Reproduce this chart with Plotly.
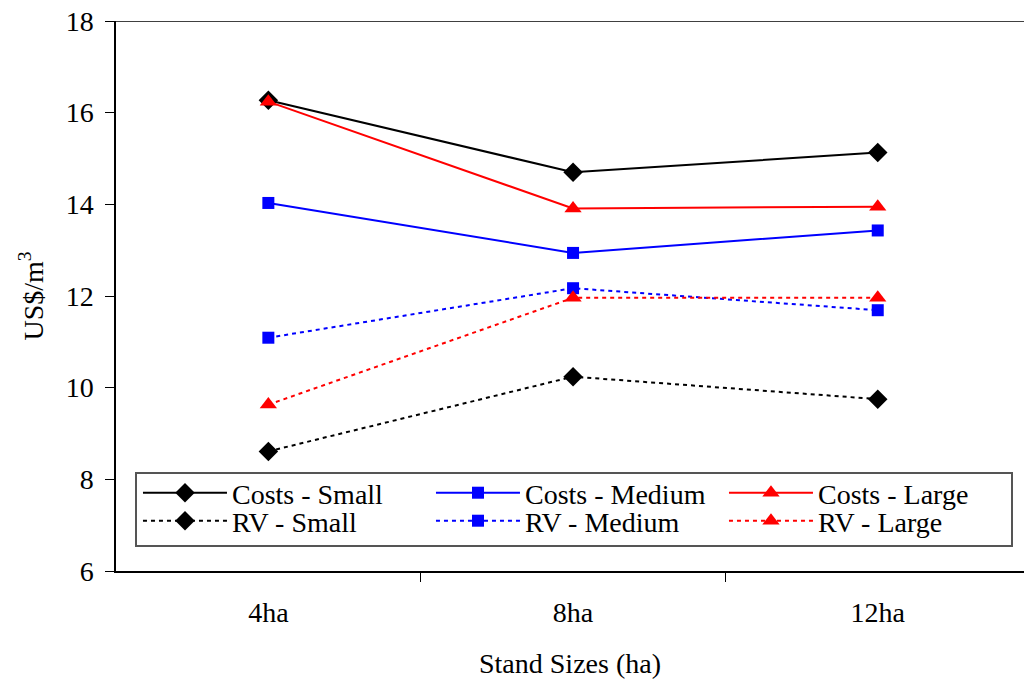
import plotly.graph_objects as go

categories = ["4ha", "8ha", "12ha"]
costs_small = [16.27, 14.70, 15.13]
costs_medium = [14.03, 12.94, 13.43]
costs_large = [16.24, 13.91, 13.95]
rv_small = [8.61, 10.24, 9.75]
rv_medium = [11.09, 12.17, 11.69]
rv_large = [9.63, 11.96, 11.96]

x = list(range(len(categories)))
series = [
    ("Costs - Small", costs_small, "black", "solid", "diamond", 15, "legend"),
    ("Costs - Medium", costs_medium, "#0000FF", "solid", "square", 12, "legend"),
    ("Costs - Large", costs_large, "#FF0000", "solid", "triangle-up", 15, "legend"),
    ("RV - Small", rv_small, "black", "4px,4px", "diamond", 15, "legend2"),
    ("RV - Medium", rv_medium, "#0000FF", "4px,4px", "square", 12, "legend2"),
    ("RV - Large", rv_large, "#FF0000", "4px,4px", "triangle-up", 15, "legend2"),
]

fig = go.Figure()
for name, vals, col, dash, sym, sz, lg in series:
    fig.add_trace(go.Scatter(
        x=x, y=vals, name=name, mode="lines+markers",
        line=dict(color=col, width=2, dash=dash),
        marker=dict(symbol=sym, size=sz, color=col),
        legend=lg,
    ))

font_family = "Times New Roman, 'Liberation Serif', serif"
legend_common = dict(
    orientation="h", x=0.0242, xanchor="left", yanchor="middle",
    borderwidth=0, bgcolor="rgba(0,0,0,0)",
    entrywidth=194, traceorder="normal",
    font=dict(size=28, family=font_family, color="black"),
    tracegroupgap=0, itemwidth=84,
)
fig.update_layout(
    width=1024, height=685,
    margin=dict(l=116, r=0, t=21, b=114),
    paper_bgcolor="white", plot_bgcolor="white",
    font=dict(family=font_family, size=28, color="black"),
    showlegend=True,
    legend=dict(y=0.1418, **legend_common),
    legend2=dict(y=0.0909, **legend_common),
    xaxis=dict(
        range=[-0.5, 2.48], tickmode="array", tickvals=x, ticktext=categories,
        ticks="", showgrid=False, zeroline=False,
        showline=True, linecolor="black", linewidth=1.5,
        ticklabelstandoff=16,
        minor=dict(tickmode="array", tickvals=[0.5, 1.5], ticks="outside", ticklen=9,
                   tickcolor="black", tickwidth=1, showgrid=False),
        title=dict(text="Stand Sizes (ha)", standoff=26, font=dict(size=28, family=font_family)),
        tickfont=dict(size=28, family=font_family),
    ),
    yaxis=dict(
        range=[6, 18], tickmode="array", tickvals=[6, 8, 10, 12, 14, 16, 18],
        ticks="outside", ticklen=9, tickcolor="black", tickwidth=1,
        showgrid=False, zeroline=False,
        showline=True, linecolor="black", linewidth=1.5,
        ticklabelstandoff=6,
        title=dict(text="US$/m<sup>3</sup>", standoff=14, font=dict(size=28, family=font_family)),
        tickfont=dict(size=28, family=font_family),
    ),
)
fig.add_hline(y=18, line=dict(color="black", width=1.5))
# legend frame
fig.add_shape(type="rect", xref="paper", yref="paper",
              x0=(136 - 116) / 908, x1=(1012 - 116) / 908,
              y0=(571 - 546) / 550, y1=(571 - 473) / 550,
              line=dict(color="#555", width=2), fillcolor="white", layer="above")

fig.write_html("out.html")
